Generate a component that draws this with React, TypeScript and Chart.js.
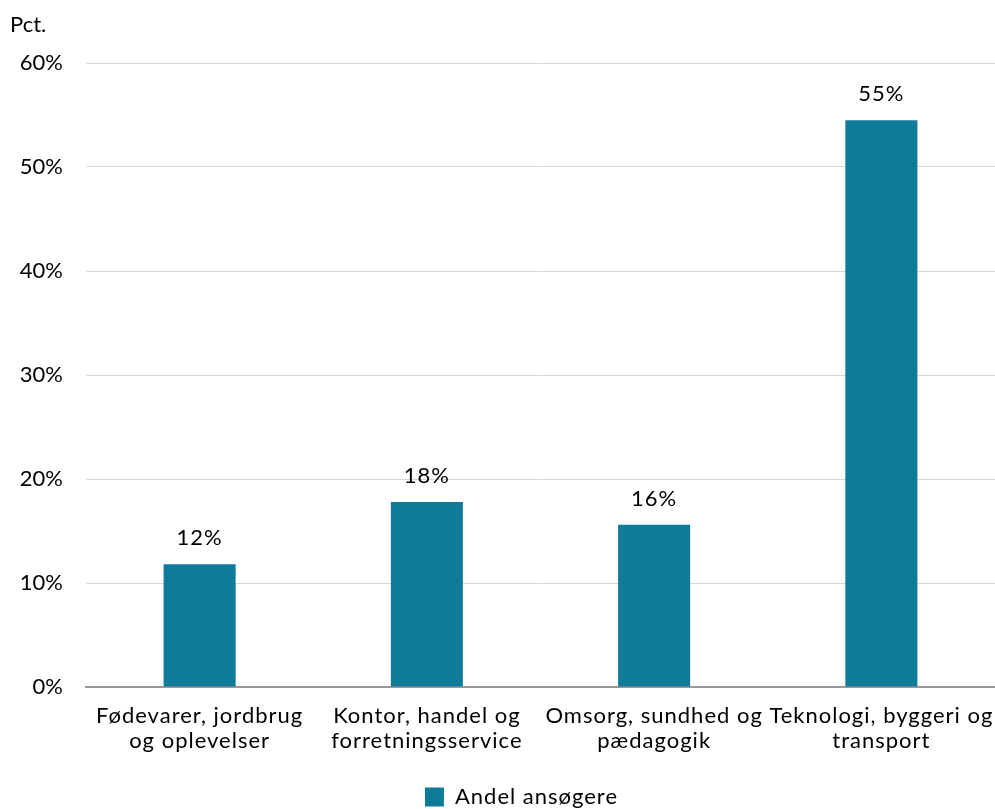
import React, { useEffect, useRef } from "react";
import { Chart, registerables } from "chart.js";

Chart.register(...registerables);

const categories: string[][] = [
  ["Fødevarer, jordbrug", "og oplevelser"],
  ["Kontor, handel og", "forretningsservice"],
  ["Omsorg, sundhed og", "pædagogik"],
  ["Teknologi, byggeri og", "transport"],
];
const seriesLabel = "Andel ansøgere";
const values: number[] = [11.8, 17.8, 15.6, 54.5];
const yTicks: number[] = [0, 10, 20, 30, 40, 50, 60];
const axisTitle = "Pct.";

const FONT = "Lato, 'Noto Sans', sans-serif";
const BAR = "#0f7b98";
const SPACING = "1px";
const LEGEND_SHIFT = 24;

const spacingPlugin = {
  id: "spacing",
  beforeUpdate(chart: any) {
    chart.ctx.letterSpacing = SPACING;
  },
  afterLayout(chart: any) {
    const y = chart.scales.y;
    if (y && !y._noSpacing) {
      const orig = y.drawLabels.bind(y);
      y.drawLabels = (ca: any) => {
        const c = chart.ctx;
        const prev = c.letterSpacing;
        c.letterSpacing = "0px";
        orig(ca);
        c.letterSpacing = prev;
      };
      y._noSpacing = true;
    }
    if (chart.legend) {
      chart.legend.left += LEGEND_SHIFT;
      chart.legend.right += LEGEND_SHIFT;
    }
  },
  beforeDraw(chart: any) {
    chart.ctx.letterSpacing = SPACING;
  },
};

const valueLabels = {
  id: "valueLabels",
  afterDatasetsDraw(chart: any) {
    const ctx = chart.ctx;
    const meta = chart.getDatasetMeta(0);
    ctx.save();
    ctx.letterSpacing = "1px";
    ctx.font = `22px ${FONT}`;
    ctx.fillStyle = "#000";
    ctx.textAlign = "center";
    ctx.textBaseline = "alphabetic";
    meta.data.forEach((el: any, i: number) => {
      ctx.fillText(Math.round(values[i]) + "%", el.x, el.y - 19);
    });
    ctx.restore();
  },
};

const yTitle = {
  id: "yTitle",
  afterDraw(chart: any) {
    const ctx = chart.ctx;
    ctx.save();
    ctx.letterSpacing = "0px";
    ctx.font = `22px ${FONT}`;
    ctx.fillStyle = "#000";
    ctx.textAlign = "left";
    ctx.textBaseline = "alphabetic";
    ctx.fillText(axisTitle, 10, 32);
    ctx.restore();
  },
};

export default function App() {
  const ref = useRef<HTMLCanvasElement>(null);
  useEffect(() => {
    if (!ref.current) return;
    const chart = new Chart(ref.current, {
      type: "bar",
      data: {
        labels: categories,
        datasets: [
          {
            label: seriesLabel,
            data: values,
            backgroundColor: BAR,
            borderWidth: 0,
            barPercentage: 0.634,
            categoryPercentage: 0.5,
          },
        ],
      },
      options: {
        animation: false,
        responsive: true,
        maintainAspectRatio: false,
        layout: { padding: { top: 63, left: 0, right: 0, bottom: 0 } },
        plugins: {
          legend: {
            position: "bottom",
            labels: {
              boxWidth: 19,
              boxHeight: 19,
              color: "#000",
              font: { family: FONT, size: 22 },
              padding: 10,
            },
          },
          tooltip: { enabled: false },
          title: { display: false },
        },
        scales: {
          x: {
            grid: { display: false, drawTicks: false },
            border: { display: true, color: "#9a9a9a", width: 2 },
            ticks: {
              color: "#000",
              font: { family: FONT, size: 22, lineHeight: 1.15 },
              padding: 16,
              maxRotation: 0,
              autoSkip: false,
            },
            afterFit(scale: any) {
              scale.height = 89;
              scale.paddingLeft = 0;
              scale.paddingRight = 0;
            },
          },
          y: {
            min: 0,
            max: 60,
            afterBuildTicks(scale: any) {
              scale.ticks = yTicks.map((v) => ({ value: v }));
            },
            grid: { color: "#d9d9d9", lineWidth: 1, drawTicks: false },
            border: { display: false },
            ticks: {
              color: "#000",
              font: { family: FONT, size: 22 },
              padding: 23,
              callback: (v: any) => v + "%",
            },
            afterFit(scale: any) {
              scale.width = 86;
            },
          },
        },
      },
      plugins: [spacingPlugin, valueLabels, yTitle],
    });
    return () => chart.destroy();
  }, []);

  return (
    <div
      style={{
        position: "fixed",
        left: 0,
        top: 0,
        width: 995,
        height: 809,
        overflow: "hidden",
        background: "#fff",
      }}
    >
      <div style={{ position: "relative", width: 995, height: 818 }}>
        <canvas ref={ref} />
      </div>
    </div>
  );
}
